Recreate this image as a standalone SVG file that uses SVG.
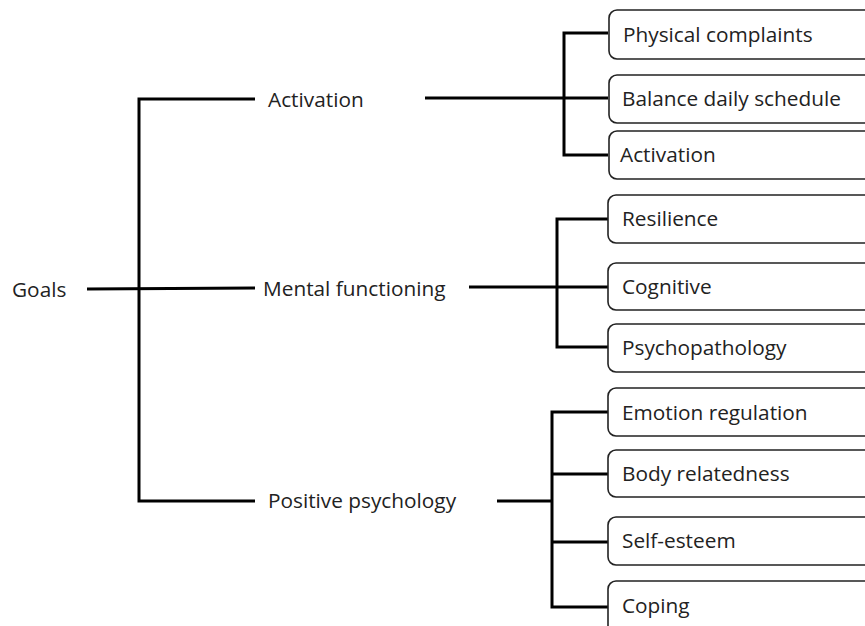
<svg xmlns="http://www.w3.org/2000/svg" width="865" height="626" viewBox="0 0 865 626">
<style>
text{font-family:"Open Sans",Lato,"Liberation Sans",sans-serif;font-size:20.8px;fill:#222}
.box{fill:#fff;stroke:#222;stroke-width:1.6}
.ln{fill:none;stroke:#000;stroke-width:3}
</style>
<rect width="865" height="626" fill="#fff"/>
<g id="connectors">
<path class="ln" d="M87,289 L255,288"/>
<path class="ln" d="M255,99 L139,99 L139,501 L255,501"/>
<path class="ln" d="M425,98 L564,98 M608,33 L564,33 L564,155 L608,155 M564,98 L608,98"/>
<path class="ln" d="M469,287 L608,287 M608,219 L557,219 L557,347 L608,347"/>
<path class="ln" d="M497,501 L552,501 M608,412 L552,412 L552,607 L608,607 M552,474 L608,474 M552,542 L608,542"/>
</g>
<g id="goals"><text x="12" y="297">Goals</text></g>
<g id="activation"><text x="268" y="107">Activation</text></g>
<g id="mental"><text x="263" y="296">Mental functioning</text></g>
<g id="positive"><text x="268" y="508">Positive psychology</text></g>
<g id="n-physical"><rect class="box" x="609" y="10" width="270" height="49" rx="8"/><text x="623" y="42">Physical complaints</text></g>
<g id="n-balance"><rect class="box" x="609" y="75" width="270" height="48" rx="8"/><text x="622" y="106">Balance daily schedule</text></g>
<g id="n-activation"><rect class="box" x="609" y="131" width="270" height="48" rx="8"/><text x="620" y="162">Activation</text></g>
<g id="n-resilience"><rect class="box" x="608" y="195" width="270" height="48" rx="8"/><text x="622" y="226">Resilience</text></g>
<g id="n-cognitive"><rect class="box" x="608" y="263" width="270" height="47" rx="8"/><text x="622" y="294">Cognitive</text></g>
<g id="n-psychopathology"><rect class="box" x="608" y="324" width="270" height="48" rx="8"/><text x="622" y="355">Psychopathology</text></g>
<g id="n-emotion"><rect class="box" x="608" y="388" width="270" height="48" rx="8"/><text x="622" y="420">Emotion regulation</text></g>
<g id="n-body"><rect class="box" x="608" y="450" width="270" height="47" rx="8"/><text x="622" y="481">Body relatedness</text></g>
<g id="n-selfesteem"><rect class="box" x="608" y="517" width="270" height="48" rx="8"/><text x="622" y="548">Self-esteem</text></g>
<g id="n-coping"><rect class="box" x="608" y="581" width="270" height="60" rx="8"/><text x="622" y="613">Coping</text></g>
</svg>
